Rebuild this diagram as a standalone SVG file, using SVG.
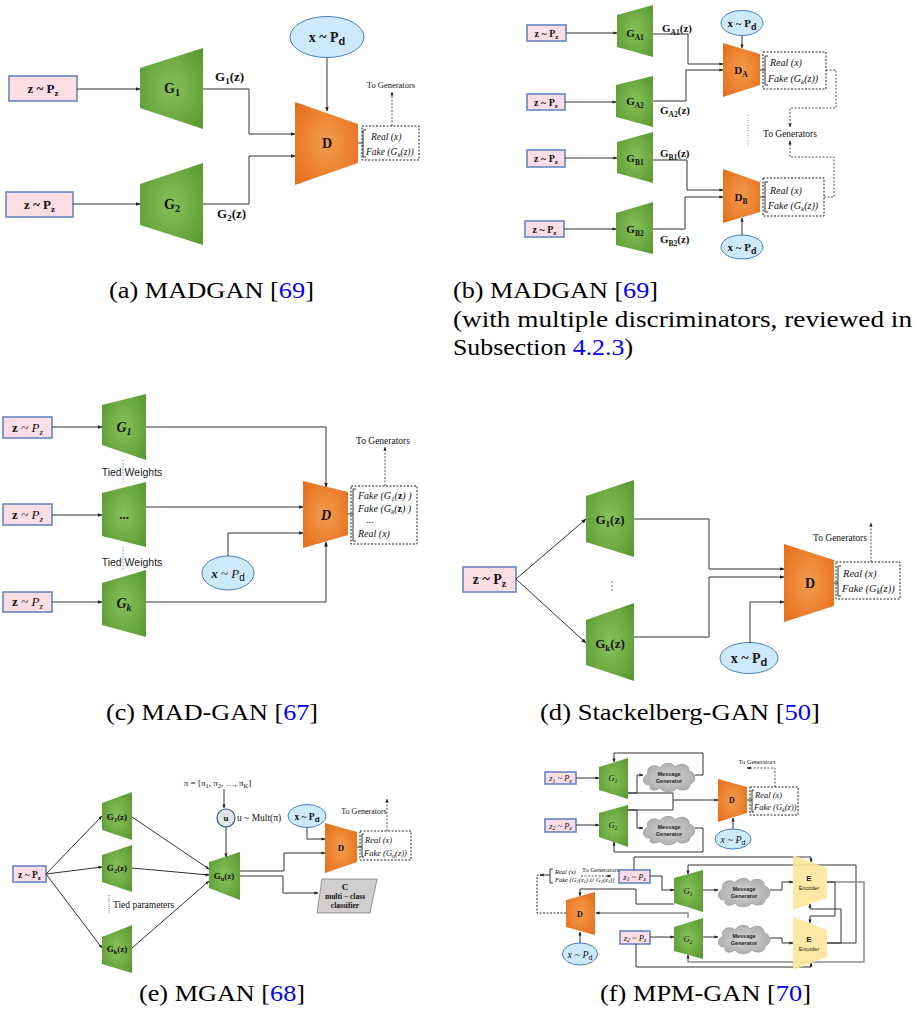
<svg xmlns="http://www.w3.org/2000/svg" width="918" height="1019" viewBox="0 0 918 1019">
<defs>
<radialGradient id="gg" cx="0.5" cy="0.5" r="0.65"><stop offset="0" stop-color="#86c25a"/><stop offset="1" stop-color="#5b9a31"/></radialGradient>
<radialGradient id="og" cx="0.5" cy="0.5" r="0.65"><stop offset="0" stop-color="#f49c4e"/><stop offset="1" stop-color="#e66f1c"/></radialGradient>
<radialGradient id="cg" cx="0.5" cy="0.5" r="0.6"><stop offset="0" stop-color="#d6d6d6"/><stop offset="1" stop-color="#a9a9a9"/></radialGradient>
<marker id="ah" viewBox="0 0 10 10" refX="9" refY="5" markerWidth="5" markerHeight="5" markerUnits="userSpaceOnUse" orient="auto"><path d="M0,1L10,5L0,9z" fill="#222"/></marker>
<marker id="as" viewBox="0 0 10 10" refX="9" refY="5" markerWidth="4" markerHeight="4" markerUnits="userSpaceOnUse" orient="auto"><path d="M0,1L10,5L0,9z" fill="#222"/></marker>
<path id="cl" d="M-18,8C-27,9 -28,0 -21,-3C-24,-10 -14,-14 -9,-9C-6,-15 4,-15 6,-10C11,-15 21,-13 20,-6C27,-5 28,5 21,7C22,13 12,15 8,11C4,16 -6,16 -9,11C-14,15 -22,13 -18,8Z" fill="url(#cg)" stroke="#9a9a9a" stroke-width="0.8"/>
</defs>
<style>
.g{fill:url(#gg)}
.o{fill:url(#og)}
.e{fill:#ffe699;opacity:0.9}
.pz{fill:#fddde4;stroke:#5b7fc0;stroke-width:1.5}
.el{fill:#cdeafc;stroke:#4a7ebb;stroke-width:1}
.ln{fill:none;stroke:#333;stroke-width:1;marker-end:url(#ah)}
.lns{fill:none;stroke:#333;stroke-width:1;marker-end:url(#as)}
.nm{fill:none;stroke:#333;stroke-width:1}
.gr{fill:none;stroke:#8a8a8a;stroke-width:1.5}
.grs{fill:none;stroke:#8a8a8a;stroke-width:1.5;marker-end:url(#as)}
.ds{fill:none;stroke:#222;stroke-width:1;stroke-dasharray:2 1.5}
.dsa{fill:none;stroke:#555;stroke-width:1;stroke-dasharray:2 1.5;marker-end:url(#as)}
.t{font-family:"Liberation Serif",serif;fill:#111}
.s{font-family:"Liberation Sans",sans-serif;fill:#222}
.b{font-weight:bold}
.i{font-style:italic}
.m{text-anchor:middle}
.cap{font-family:"Liberation Serif",serif;font-size:24px;fill:#000}
.cite{fill:#0000ff}
</style>
<rect width="918" height="1019" fill="#fff"/>

<!-- ===== Panel (a) ===== -->
<g id="a-z1"><rect class="pz" x="9" y="76" width="68" height="25"/><text class="t b m" x="43" y="93" font-size="13">z ~ P<tspan font-size="9" dy="3">z</tspan></text></g>
<g id="a-z2"><rect class="pz" x="6" y="192" width="67" height="25"/><text class="t b m" x="39.5" y="209" font-size="13">z ~ P<tspan font-size="9" dy="3">z</tspan></text></g>
<g id="a-G1"><polygon class="g" points="140,68 203,48 203,129 140,108"/><text class="t b m" x="172" y="93" font-size="14">G<tspan font-size="10" dy="3">1</tspan></text></g>
<g id="a-G2"><polygon class="g" points="140,184 203,163 203,245 140,225"/><text class="t b m" x="172" y="209" font-size="14">G<tspan font-size="10" dy="3">2</tspan></text></g>
<g id="a-D"><polygon class="o" points="295,102 358,124 358,163 295,185"/><text class="t b m" x="327" y="148" font-size="14">D</text></g>
<g id="a-x"><ellipse class="el" cx="327" cy="37" rx="37" ry="20.5"/><text class="t b m" x="327" y="42" font-size="14">x ~ P<tspan font-size="11" dy="3" font-family="Liberation Sans,sans-serif">d</tspan></text></g>
<g id="a-out"><rect class="ds" x="362" y="126" width="57" height="34"/><path class="nm" d="M366,130H363V157H366"/>
<text class="t i" x="371" y="140" font-size="9.5">Real (x)</text>
<text class="t i" x="366" y="155" font-size="9.5">Fake (G<tspan font-size="7" dy="2">k</tspan><tspan dy="-2">(z))</tspan></text></g>
<g id="a-edges">
<path class="ln" d="M77,89H140"/>
<path class="ln" d="M73,204H140"/>
<path class="ln" d="M203,89H249V134H295"/>
<path class="ln" d="M203,204H249V156H295"/>
<path class="ln" d="M327,58V111"/>
<path class="nm" d="M358,143H362"/>
<path class="dsa" d="M392,126V92"/>
<text class="t m" x="391" y="88" font-size="8.5">To Generators</text>
<text class="t b" x="215" y="81" font-size="13">G<tspan font-size="9" dy="3">1</tspan><tspan dy="-3">(z)</tspan></text>
<text class="t b" x="217" y="218" font-size="13">G<tspan font-size="9" dy="3">2</tspan><tspan dy="-3">(z)</tspan></text>
</g>

<!-- ===== Panel (b) ===== -->
<g id="b-z1"><rect class="pz" x="527" y="25" width="39" height="16"/><text class="t b m" x="546.5" y="37" font-size="10">z ~ P<tspan font-size="7" dy="2">z</tspan></text></g>
<g id="b-z2"><rect class="pz" x="527" y="94" width="38" height="16"/><text class="t b m" x="546" y="106" font-size="10">z ~ P<tspan font-size="7" dy="2">z</tspan></text></g>
<g id="b-z3"><rect class="pz" x="527" y="150" width="38" height="17"/><text class="t b m" x="546" y="162" font-size="10">z ~ P<tspan font-size="7" dy="2">z</tspan></text></g>
<g id="b-z4"><rect class="pz" x="525" y="221" width="39" height="16"/><text class="t b m" x="544.5" y="233" font-size="10">z ~ P<tspan font-size="7" dy="2">z</tspan></text></g>
<g id="b-GA1"><polygon class="g" points="617,15 653,5 653,57 617,47"/><text class="t b m" x="635" y="37" font-size="11">G<tspan font-size="7.5" dy="2.5">A1</tspan></text></g>
<g id="b-GA2"><polygon class="g" points="616,85 653,76 653,127 616,117"/><text class="t b m" x="635" y="105" font-size="11">G<tspan font-size="7.5" dy="2.5">A2</tspan></text></g>
<g id="b-GB1"><polygon class="g" points="617,142 653,132 653,183 617,173"/><text class="t b m" x="635" y="162" font-size="11">G<tspan font-size="7.5" dy="2.5">B1</tspan></text></g>
<g id="b-GB2"><polygon class="g" points="616,213 653,202 653,254 616,245"/><text class="t b m" x="635" y="233" font-size="11">G<tspan font-size="7.5" dy="2.5">B2</tspan></text></g>
<g id="b-DA"><polygon class="o" points="723,43 760,54 760,85 723,97"/><text class="t b m" x="741" y="74" font-size="11">D<tspan font-size="7.5" dy="2.5">A</tspan></text></g>
<g id="b-DB"><polygon class="o" points="723,169 760,182 760,212 723,223"/><text class="t b m" x="741" y="201" font-size="11">D<tspan font-size="7.5" dy="2.5">B</tspan></text></g>
<g id="b-xA"><ellipse class="el" cx="742" cy="23" rx="21" ry="12.5"/><text class="t b m" x="742" y="27" font-size="11">x ~ P<tspan font-size="9" dy="2.5" font-family="Liberation Sans,sans-serif">d</tspan></text></g>
<g id="b-xB"><ellipse class="el" cx="742" cy="247" rx="21" ry="12"/><text class="t b m" x="742" y="251" font-size="11">x ~ P<tspan font-size="9" dy="2.5" font-family="Liberation Sans,sans-serif">d</tspan></text></g>
<g id="b-outA"><rect class="ds" x="763" y="52" width="63" height="37"/><path class="nm" d="M768,56H765V85H768"/>
<text class="t i" x="770" y="66" font-size="10">Real (x)</text>
<text class="t i" x="768" y="82" font-size="10">Fake (G<tspan font-size="7" dy="2">k</tspan><tspan dy="-2">(z))</tspan></text></g>
<g id="b-outB"><rect class="ds" x="763" y="178" width="61" height="38"/><path class="nm" d="M768,182H765V212H768"/>
<text class="t i" x="770" y="194" font-size="10">Real (x)</text>
<text class="t i" x="768" y="209" font-size="10">Fake (G<tspan font-size="7" dy="2">k</tspan><tspan dy="-2">(z))</tspan></text></g>
<g id="b-edges">
<path class="lns" d="M566,33H617"/>
<path class="lns" d="M565,102H616"/>
<path class="lns" d="M565,158H617"/>
<path class="lns" d="M564,229H616"/>
<path class="lns" d="M653,34H688V64H723"/>
<path class="lns" d="M653,101H686V70H723"/>
<path class="lns" d="M653,160H687V190H723"/>
<path class="lns" d="M653,229H685V197H723"/>
<path class="lns" d="M742,35.5V48"/>
<path class="lns" d="M742,235V218"/>
<path class="nm" d="M760,70H765"/>
<path class="nm" d="M760,197H765"/>
<path class="dsa" d="M826,70H836V108H790V127"/>
<path class="dsa" d="M824,197H834V157H790V141"/>
<path d="M748,115V147" fill="none" stroke="#bbb" stroke-width="1.5" stroke-dasharray="1 1.5"/>
<text class="t m" x="790" y="137" font-size="9.5">To Generators</text>
<text class="t b" x="662" y="32" font-size="11">G<tspan font-size="7.5" dy="2.5">A1</tspan><tspan dy="-2.5">(z)</tspan></text>
<text class="t b" x="660" y="114" font-size="11">G<tspan font-size="7.5" dy="2.5">A2</tspan><tspan dy="-2.5">(z)</tspan></text>
<text class="t b" x="660" y="157" font-size="11">G<tspan font-size="7.5" dy="2.5">B1</tspan><tspan dy="-2.5">(z)</tspan></text>
<text class="t b" x="660" y="243" font-size="11">G<tspan font-size="7.5" dy="2.5">B2</tspan><tspan dy="-2.5">(z)</tspan></text>
</g>

<!-- ===== Panel (c) ===== -->
<g id="c-z1"><rect class="pz" x="3" y="417" width="49" height="21"/><text class="t m" x="27.5" y="432" font-size="13"><tspan font-weight="bold">z</tspan> ~ <tspan font-style="italic">P</tspan><tspan font-size="9" dy="3" font-style="italic">z</tspan></text></g>
<g id="c-z2"><rect class="pz" x="3" y="504" width="49" height="21"/><text class="t m" x="27.5" y="519" font-size="13"><tspan font-weight="bold">z</tspan> ~ <tspan font-style="italic">P</tspan><tspan font-size="9" dy="3" font-style="italic">z</tspan></text></g>
<g id="c-z3"><rect class="pz" x="3" y="592" width="49" height="20"/><text class="t m" x="27.5" y="606" font-size="13"><tspan font-weight="bold">z</tspan> ~ <tspan font-style="italic">P</tspan><tspan font-size="9" dy="3" font-style="italic">z</tspan></text></g>
<g id="c-G1"><polygon class="g" points="102,405 146,394 146,460 102,445"/><text class="t b i m" x="124" y="432" font-size="14">G<tspan font-size="10" dy="3">1</tspan></text></g>
<g id="c-Gm"><polygon class="g" points="102,493 146,482 146,547 102,536"/><text class="t b m" x="124" y="519" font-size="13">...</text></g>
<g id="c-Gk"><polygon class="g" points="102,583 146,570 146,637 102,625"/><text class="t b i m" x="124" y="608" font-size="14">G<tspan font-size="10" dy="3">k</tspan></text></g>
<g id="c-D"><polygon class="o" points="303,481 348,492 348,535 303,548"/><text class="t b i m" x="326" y="520" font-size="14">D</text></g>
<g id="c-x"><ellipse class="el" cx="228" cy="573" rx="26" ry="17"/><text class="t m" x="228" y="578" font-size="13"><tspan font-weight="bold" font-style="italic">x</tspan> ~ <tspan font-style="italic">P</tspan><tspan font-size="10" dy="3" font-family="Liberation Sans,sans-serif">d</tspan></text></g>
<g id="c-out"><rect class="ds" x="351" y="486" width="66" height="58"/><path class="nm" d="M356,489H353V541H356"/>
<text class="t i" x="358" y="499" font-size="10">Fake (G<tspan font-size="7" dy="2">1</tspan><tspan dy="-2">(</tspan><tspan font-weight="bold" font-style="normal">z</tspan>) )</text>
<text class="t i" x="358" y="512" font-size="10">Fake (G<tspan font-size="7" dy="2">k</tspan><tspan dy="-2">(</tspan><tspan font-weight="bold" font-style="normal">z</tspan>) )</text>
<text class="t" x="366" y="523" font-size="10">...</text>
<text class="t i" x="358" y="537" font-size="10">Real (x)</text></g>
<g id="c-edges">
<path class="ln" d="M52,427H102"/>
<path class="ln" d="M52,515H102"/>
<path class="ln" d="M52,602H102"/>
<path d="M123,460V482M123,547V570" fill="none" stroke="#5b9bd5" stroke-width="1" stroke-dasharray="1.5 1.5"/>
<path class="ln" d="M146,427H326V487"/>
<path class="ln" d="M146,507H303"/>
<path class="ln" d="M146,602H326V542"/>
<path class="ln" d="M228,556V533H303"/>
<path class="nm" d="M348,514H353"/>
<path class="dsa" d="M385,486V447"/>
<text class="t m" x="383" y="444" font-size="9.5">To Generators</text>
<text class="s m" x="132" y="476" font-size="10.5">Tied Weights</text>
<text class="s m" x="132" y="566" font-size="10.5">Tied Weights</text>
</g>

<!-- ===== Panel (d) ===== -->
<g id="d-z"><rect class="pz" x="463" y="567" width="53" height="25"/><text class="t b m" x="489.5" y="584" font-size="14">z ~ P<tspan font-size="10" dy="3">z</tspan></text></g>
<g id="d-G1"><polygon class="g" points="586,496 634,480 634,557 586,542"/><text class="t b m" x="610" y="524" font-size="13">G<tspan font-size="9" dy="3">1</tspan><tspan dy="-3">(z)</tspan></text></g>
<g id="d-Gk"><polygon class="g" points="586,620 634,603 634,681 586,665"/><text class="t b m" x="610" y="648" font-size="13">G<tspan font-size="9" dy="3">k</tspan><tspan dy="-3">(z)</tspan></text></g>
<g id="d-D"><polygon class="o" points="784,544 834,560 834,606 784,622"/><text class="t b m" x="810" y="588" font-size="14">D</text></g>
<g id="d-x"><ellipse class="el" cx="749" cy="658" rx="29" ry="15.5"/><text class="t b m" x="749" y="663" font-size="14">x ~ P<tspan font-size="11" dy="3" font-family="Liberation Sans,sans-serif">d</tspan></text></g>
<g id="d-out"><rect class="ds" x="836" y="562" width="64" height="37"/><path class="nm" d="M841,566H838V596H841"/>
<text class="t i" x="843" y="577" font-size="10.5">Real (x)</text>
<text class="t i" x="842" y="592" font-size="10.5">Fake (G<tspan font-size="7.5" dy="2">k</tspan><tspan dy="-2">(z))</tspan></text></g>
<g id="d-edges">
<path class="ln" d="M516,579L586,519"/>
<path class="ln" d="M516,579L586,643"/>
<circle cx="612" cy="582" r="0.9" fill="#999"/><circle cx="612" cy="586" r="0.9" fill="#999"/><circle cx="612" cy="590" r="0.9" fill="#999"/>
<path class="ln" d="M634,519H709V569H784"/>
<path class="ln" d="M634,637H709V577H784"/>
<path class="ln" d="M750,643V602H784"/>
<path class="nm" d="M834,583H838"/>
<path class="dsa" d="M871,562V523"/>
<text class="t m" x="840" y="541" font-size="9.5">To Generators</text>
</g>

<!-- ===== Panel (e) ===== -->
<g id="e-z"><rect class="pz" x="13" y="866" width="33" height="16"/><text class="t b m" x="29.5" y="877.5" font-size="9.5">z ~ P<tspan font-size="7" dy="2">z</tspan></text></g>
<g id="e-G1"><polygon class="g" points="102,803 132,792 132,840 102,830"/><text class="t b m" x="117" y="820" font-size="9">G<tspan font-size="6.5" dy="2">1</tspan><tspan dy="-2">(z)</tspan></text></g>
<g id="e-G2"><polygon class="g" points="102,855 132,845 132,892 102,882"/><text class="t b m" x="117" y="871" font-size="9">G<tspan font-size="6.5" dy="2">2</tspan><tspan dy="-2">(z)</tspan></text></g>
<g id="e-Gk"><polygon class="g" points="102,937 132,925 132,973 102,964"/><text class="t b m" x="117" y="952" font-size="9">G<tspan font-size="6.5" dy="2">k</tspan><tspan dy="-2">(z)</tspan></text></g>
<g id="e-Gu"><polygon class="g" points="209,862 240,852 240,900 209,888"/><text class="t b m" x="224" y="879" font-size="9">G<tspan font-size="6.5" dy="2">u</tspan><tspan dy="-2">(z)</tspan></text></g>
<g id="e-u"><circle cx="226" cy="818" r="9" fill="#e7e6e6" stroke="#2f5597" stroke-width="1.2"/><text class="t b m" x="226" y="821" font-size="9">u</text></g>
<g id="e-x"><ellipse class="el" cx="307" cy="816" rx="19" ry="11.5"/><text class="t b m" x="307" y="819.5" font-size="9.5">x ~ P<tspan font-size="8" dy="2" font-family="Liberation Sans,sans-serif">d</tspan></text></g>
<g id="e-D"><polygon class="o" points="325,823 357,832 357,862 325,873"/><text class="t b m" x="341" y="851" font-size="9">D</text></g>
<g id="e-C"><polygon points="322,879 377,879 370,913 317,913" fill="#d0cece" stroke="#7f7f7f" stroke-width="0.8"/><text class="t b m" x="345" y="890" font-size="9">C</text><text class="t b m" x="345" y="899" font-size="7.5">multi − class</text><text class="t b m" x="345" y="908" font-size="7.5">classifier</text></g>
<g id="e-out"><rect class="ds" x="360" y="831" width="51" height="29"/><path class="nm" d="M364,834H362V857H364"/>
<text class="t i" x="365" y="843" font-size="8.5">Real (x)</text>
<text class="t i" x="364" y="856" font-size="8.5">Fake (G<tspan font-size="6" dy="2">u</tspan><tspan dy="-2">(z))</tspan></text></g>
<g id="e-edges">
<path class="lns" d="M46,874L102,816"/>
<path class="lns" d="M46,874L102,867"/>
<path class="lns" d="M46,874L102,948"/>
<path class="lns" d="M132,817L209,869"/>
<path class="lns" d="M132,868L209,875"/>
<path class="lns" d="M132,948L209,881"/>
<path d="M109,895V913" fill="none" stroke="#999" stroke-width="1.5" stroke-dasharray="1 1.2"/>
<text class="t" x="113" y="908" font-size="9.5">Tied parameters</text>
<path class="lns" d="M224,789V808"/>
<path class="lns" d="M226,827V857"/>
<text class="t m" x="217.5" y="786" font-size="9">π = [π<tspan font-size="6.5" dy="2">1</tspan><tspan dy="-2">, π</tspan><tspan font-size="6.5" dy="2">2</tspan><tspan dy="-2">, …, π</tspan><tspan font-size="6.5" dy="2">K</tspan><tspan dy="-2">]</tspan></text>
<text class="t" x="237" y="821" font-size="9.5">u ~ Mult(π)</text>
<path class="lns" d="M307,827.5V839H325"/>
<path class="lns" d="M240,871H284V853H325"/>
<path class="lns" d="M240,876H283V893H318"/>
<path class="nm" d="M357,847H362"/>
<path class="dsa" d="M387,831V799"/>
<text class="t m" x="364" y="814" font-size="8">To Generators</text>
</g>

<!-- ===== Panel (f) top ===== -->
<g id="f-z1"><rect class="pz" x="545" y="772" width="31" height="12"/><text class="t i m" x="560.5" y="781" font-size="8.5">z<tspan font-size="6" dy="1.5">1</tspan><tspan dy="-1.5"> ~ P</tspan><tspan font-size="6" dy="1.5">z</tspan></text></g>
<g id="f-z2"><rect class="pz" x="545" y="819" width="31" height="13"/><text class="t i m" x="560.5" y="828.5" font-size="8.5">z<tspan font-size="6" dy="1.5">2</tspan><tspan dy="-1.5"> ~ P</tspan><tspan font-size="6" dy="1.5">z</tspan></text></g>
<g id="f-G1"><polygon class="g" points="599,767 628,758 628,799 599,790"/><text class="t i m" x="613" y="781" font-size="8.5">G<tspan font-size="6" dy="1.5">1</tspan></text></g>
<g id="f-G2"><polygon class="g" points="599,813 628,805 628,847 599,837"/><text class="t i m" x="613" y="828" font-size="8.5">G<tspan font-size="6" dy="1.5">2</tspan></text></g>
<g id="f-M1"><use href="#cl" transform="translate(669,777)"/><text class="s b m" x="669" y="776" font-size="5.5" fill="#404040">Message</text><text class="s b m" x="669" y="783" font-size="5.5" fill="#404040">Generator</text></g>
<g id="f-M2"><use href="#cl" transform="translate(669,830)"/><text class="s b m" x="669" y="829" font-size="5.5" fill="#404040">Message</text><text class="s b m" x="669" y="836" font-size="5.5" fill="#404040">Generator</text></g>
<g id="f-D1"><polygon class="o" points="718,779 747,787 747,813 718,822"/><text class="t b m" x="732" y="803" font-size="8">D</text></g>
<g id="f-x1"><ellipse class="el" cx="733" cy="839" rx="18" ry="10"/><text class="t i m" x="733" y="843" font-size="10">x ~ P<tspan font-size="7" dy="2" font-style="normal" font-family="Liberation Sans,sans-serif">d</tspan></text></g>
<g id="f-out1"><rect class="ds" x="750" y="787" width="48" height="28"/><path class="nm" d="M754,790H752V812H754"/>
<text class="t i" x="755" y="798" font-size="8.5">Real (x)</text>
<text class="t i" x="754" y="810" font-size="8.5">Fake (G<tspan font-size="6" dy="1.5">k</tspan><tspan dy="-1.5">(z))</tspan></text></g>
<g id="f-top-edges">
<path class="lns" d="M576,778H599"/>
<path class="lns" d="M576,825H599"/>
<path class="lns" d="M628,793H637V775H643"/>
<path class="lns" d="M628,810H637V828H643"/>
<path class="lns" d="M628,793H673V800H718"/>
<path class="nm" d="M628,810H673V800"/>
<path class="lns" d="M695,775H703V753H614V762"/>
<path class="lns" d="M695,828H703V852H614V842"/>
<path class="lns" d="M733,829V818"/>
<path class="nm" d="M747,800H752"/>
<path class="dsa" d="M775,787V768H747"/>
<text class="t m" x="757" y="764" font-size="6.5">To Generators</text>
</g>

<!-- ===== Panel (f) bottom ===== -->
<g id="f-z3"><rect class="pz" x="619" y="870" width="31" height="13"/><text class="t i m" x="634.5" y="879.5" font-size="8.5">z<tspan font-size="6" dy="1.5">1</tspan><tspan dy="-1.5"> ~ P</tspan><tspan font-size="6" dy="1.5">z</tspan></text></g>
<g id="f-z4"><rect class="pz" x="620" y="931" width="30" height="13"/><text class="t i m" x="635" y="940.5" font-size="8.5">z<tspan font-size="6" dy="1.5">2</tspan><tspan dy="-1.5"> ~ P</tspan><tspan font-size="6" dy="1.5">z</tspan></text></g>
<g id="f-G3"><polygon class="g" points="674,878 703,870 703,912 674,903"/><text class="t i m" x="688" y="894" font-size="8.5">G<tspan font-size="6" dy="1.5">1</tspan></text></g>
<g id="f-G4"><polygon class="g" points="674,927 703,918 703,959 674,951"/><text class="t i m" x="688" y="942" font-size="8.5">G<tspan font-size="6" dy="1.5">2</tspan></text></g>
<g id="f-M3"><use href="#cl" transform="translate(744,892)"/><text class="s b m" x="744" y="891" font-size="5.5" fill="#404040">Message</text><text class="s b m" x="744" y="898" font-size="5.5" fill="#404040">Generator</text></g>
<g id="f-M4"><use href="#cl" transform="translate(744,939)"/><text class="s b m" x="744" y="938" font-size="5.5" fill="#404040">Message</text><text class="s b m" x="744" y="945" font-size="5.5" fill="#404040">Generator</text></g>
<g id="f-D2"><polygon class="o" points="566,900 595,892 595,935 566,927"/><text class="t b m" x="580" y="917" font-size="8">D</text></g>
<g id="f-x2"><ellipse class="el" cx="580" cy="954" rx="17.5" ry="11"/><text class="t i m" x="580" y="958" font-size="10">x ~ P<tspan font-size="7" dy="2" font-style="normal" font-family="Liberation Sans,sans-serif">d</tspan></text></g>
<g id="f-bottom-edges">
<path class="lns" d="M650,876H662V890H674"/>
<path class="lns" d="M650,937H674"/>
<path class="lns" d="M703,890H718"/>
<path class="lns" d="M703,937H718"/>
<path class="lns" d="M770,890H782V882H793"/>
<path class="lns" d="M770,938H782V943H793"/>
<path class="lns" d="M634,870V857H811V862"/>
<path class="lns" d="M636,944V967H811V963"/>
<path class="lns" d="M827,943H856V865H688V874"/>
<path class="grs" d="M827,882H864V962H688V955"/>
<path class="lns" d="M827,882H835V916H810V923"/>
<path class="lns" d="M827,943H841V909H810V904"/>
<path class="lns" d="M674,904H636V889H580V896"/>
<path class="grs" d="M688,918V913H596"/>
<path class="lns" d="M580,943V932"/>
<path class="ds" d="M566,913H537V875H541"/>
<path class="lns" d="M550,875H540"/>
<path class="nm" d="M553,869H550V883H553"/>
<text class="t i" x="555" y="874" font-size="6.5">Real (x)</text>
<text class="t i" x="555" y="882" font-size="6.5">Fake (G<tspan font-size="4.5" dy="1">1</tspan><tspan dy="-1">(z</tspan><tspan font-size="4.5" dy="1">1</tspan><tspan dy="-1">) ∪ G</tspan><tspan font-size="4.5" dy="1">2</tspan><tspan dy="-1">(z</tspan><tspan font-size="4.5" dy="1">2</tspan><tspan dy="-1">))</tspan></text>
<text class="t" x="582" y="872" font-size="6.5">To Generators</text>
<path class="dsa" d="M581,876H611"/>
</g>
<g id="f-E1"><polygon class="e" points="793,855 827,868 827,898 793,910"/><text class="s b m" x="809" y="881" font-size="8" fill="#222">E</text><text class="s m" x="809" y="890" font-size="5.5" fill="#222">Encoder</text></g>
<g id="f-E2"><polygon class="e" points="793,917 827,930 827,957 793,970"/><text class="s b m" x="809" y="942" font-size="8" fill="#222">E</text><text class="s m" x="809" y="951" font-size="5.5" fill="#222">Encoder</text></g>

<!-- ===== Captions ===== -->
<g id="captions">
<text class="cap" x="109" y="298" textLength="205" lengthAdjust="spacingAndGlyphs">(a) MADGAN [<tspan class="cite">69</tspan>]</text>
<text class="cap" x="453" y="298" textLength="205" lengthAdjust="spacingAndGlyphs">(b) MADGAN [<tspan class="cite">69</tspan>]</text>
<text class="cap" x="453" y="327" textLength="459" lengthAdjust="spacingAndGlyphs">(with multiple discriminators, reviewed in</text>
<text class="cap" x="453" y="355" textLength="180" lengthAdjust="spacingAndGlyphs">Subsection <tspan class="cite">4.2.3</tspan>)</text>
<text class="cap" x="106" y="720" textLength="212" lengthAdjust="spacingAndGlyphs">(c) MAD-GAN [<tspan class="cite">67</tspan>]</text>
<text class="cap" x="540" y="720" textLength="280" lengthAdjust="spacingAndGlyphs">(d) Stackelberg-GAN [<tspan class="cite">50</tspan>]</text>
<text class="cap" x="139" y="1001" textLength="166" lengthAdjust="spacingAndGlyphs">(e) MGAN [<tspan class="cite">68</tspan>]</text>
<text class="cap" x="600" y="1001" textLength="211" lengthAdjust="spacingAndGlyphs">(f) MPM-GAN [<tspan class="cite">70</tspan>]</text>
</g>
</svg>
